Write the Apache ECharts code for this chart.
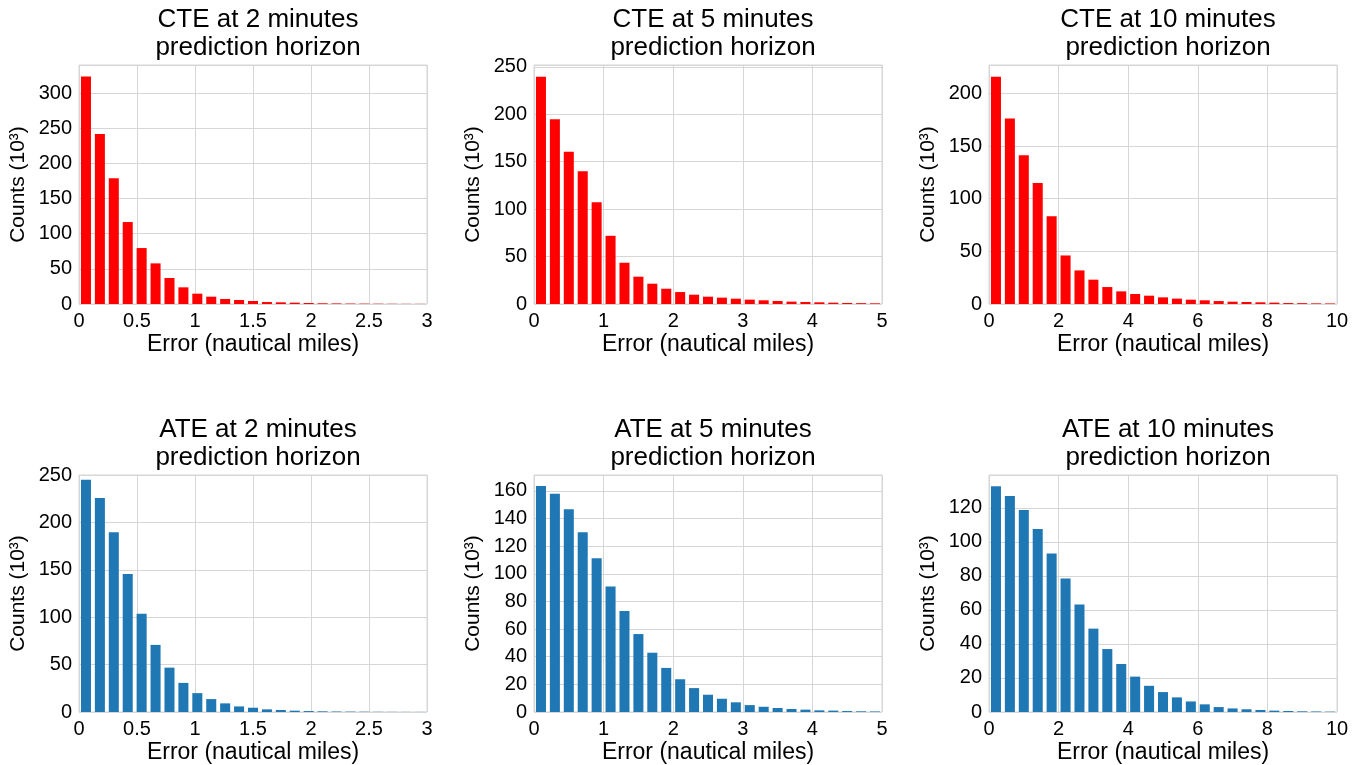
<!DOCTYPE html>
<html>
<head>
<meta charset="utf-8">
<script src="https://cdn.jsdelivr.net/npm/echarts@6/dist/echarts.min.js"></script>
<style>html,body{margin:0;padding:0;background:#fff}#c{width:1365px;height:765px}</style>
</head>
<body>
<div id="c"></div>
<script>
// Histogram data: 25 bins per panel, counts in thousands
const cte2 = [323.7, 242, 179, 116.6, 79.6, 57.8, 37, 23.7, 14.7, 10.4, 7.1, 5.7, 4.3, 2.8, 2.4, 1.9, 1.4, 1.0, 0.8, 0.6, 0.5, 0.4, 0.3, 0.2, 0.2];
const cte5 = [239.6, 194.7, 160.4, 140, 107.4, 71.9, 43.5, 28.8, 21.4, 16.1, 12.6, 9.8, 7.7, 6.7, 5.6, 4.6, 3.9, 3.2, 2.5, 2.1, 1.8, 1.4, 1.1, 0.9, 0.7];
const cte10 = [215.8, 176.3, 141.2, 115, 83.4, 46.1, 31.9, 23.1, 16.1, 12.0, 9.5, 7.9, 6.3, 5.1, 4.1, 3.5, 2.8, 2.2, 1.9, 1.6, 1.3, 0.9, 0.8, 0.6, 0.5];
const ate2 = [245, 225.7, 189.5, 145.5, 103.6, 70.8, 46.8, 30.7, 19.9, 13.6, 9.1, 5.9, 4.5, 2.8, 2.1, 1.4, 1.0, 0.7, 0.5, 0.4, 0.3, 0.2, 0.15, 0.1, 0.1];
const ate5 = [163.5, 158, 146.8, 130, 111.3, 90.9, 73.1, 56.4, 42.9, 31.9, 23.7, 17.3, 12.5, 9.6, 7.0, 5.0, 3.8, 2.9, 2.2, 1.7, 1.2, 1.0, 0.7, 0.5, 0.4];
const ate10 = [132.7, 127, 118.7, 107.6, 93.2, 78.4, 63.2, 49.0, 37.0, 28.2, 20.8, 15.4, 11.7, 8.6, 6.2, 4.5, 2.9, 2.1, 1.6, 1.2, 0.8, 0.6, 0.4, 0.3, 0.2];

const titles = [
  'CTE at 2 minutes\nprediction horizon', 'CTE at 5 minutes\nprediction horizon', 'CTE at 10 minutes\nprediction horizon',
  'ATE at 2 minutes\nprediction horizon', 'ATE at 5 minutes\nprediction horizon', 'ATE at 10 minutes\nprediction horizon'
];
const seriesData = [cte2, cte5, cte10, ate2, ate5, ate10];
const xMax = [3, 5, 10, 3, 5, 10];
const xInterval = [0.5, 1, 2, 0.5, 1, 2];
const yMax = [340, 252, 227, 250, 171.5, 139.3];
const yInterval = [50, 50, 50, 50, 20, 20];
const colors = ['#ff0000', '#ff0000', '#ff0000', '#1f77b4', '#1f77b4', '#1f77b4'];
const xName = 'Error (nautical miles)';
const yName = 'Counts (10³)';

const FONT = "'Liberation Sans', Arial, sans-serif";
const lefts = [79, 534, 989];
const tops = [65, 475];
const W = 348, H = 239;

const option = {
  animation: false,
  backgroundColor: '#fff',
  title: [], grid: [], xAxis: [], yAxis: [], series: []
};

for (let i = 0; i < 6; i++) {
  const col = i % 3, row = Math.floor(i / 3);
  const left = lefts[col], top = tops[row];
  option.title.push({
    text: titles[i],
    left: left + W / 2, top: top - 64,
    textAlign: 'center',
    textStyle: { fontFamily: FONT, fontSize: 26, fontWeight: 'normal', color: '#000', lineHeight: 28 }
  });
  option.grid.push({
    left: left, top: top, width: W, height: H,
    show: true, borderColor: '#d6d6d6', borderWidth: 1, backgroundColor: 'transparent'
  });
  option.xAxis.push({
    type: 'value', gridIndex: i, min: 0, max: xMax[i], interval: xInterval[i],
    name: xName, nameLocation: 'middle', nameGap: 29,
    nameTextStyle: { fontFamily: FONT, fontSize: 23, color: '#000' },
    axisLine: { show: false }, axisTick: { show: false },
    axisLabel: { fontFamily: FONT, fontSize: 20, color: '#000', margin: 7 },
    splitLine: { show: true, lineStyle: { color: '#d6d6d6', width: 1 } }
  });
  option.yAxis.push({
    type: 'value', gridIndex: i, min: 0, max: yMax[i], interval: yInterval[i],
    name: yName, nameLocation: 'middle', nameGap: 50,
    nameTextStyle: { fontFamily: FONT, fontSize: 21, color: '#000' },
    axisLine: { show: false }, axisTick: { show: false },
    axisLabel: { fontFamily: FONT, fontSize: 20, color: '#000', margin: 7, showMaxLabel: (yMax[i] % yInterval[i] === 0) },
    splitLine: { show: true, lineStyle: { color: '#d6d6d6', width: 1 } }
  });
  const bw = xMax[i] / seriesData[i].length;
  option.series.push({
    type: 'bar', xAxisIndex: i, yAxisIndex: i,
    data: seriesData[i].map((v, k) => [(k + 0.5) * bw, v]),
    barWidth: '72%',
    itemStyle: { color: colors[i] },
    silent: true
  });
}

const chart = echarts.init(document.getElementById('c'), null, { renderer: 'canvas' });
chart.setOption(option);
</script>
</body>
</html>
